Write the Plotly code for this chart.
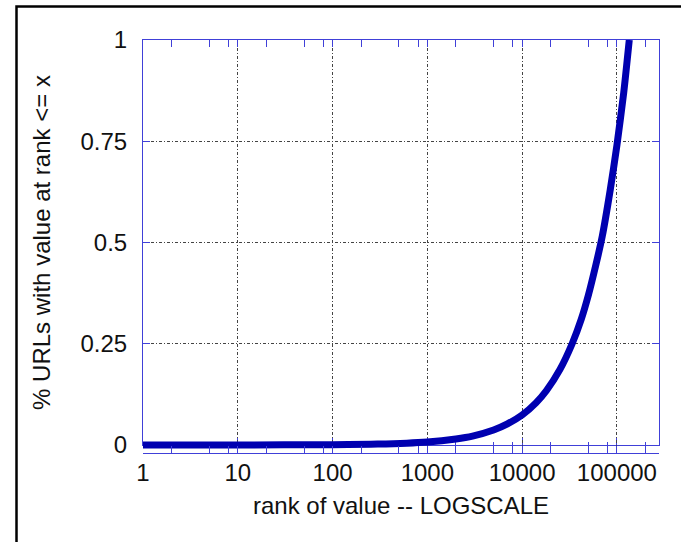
import plotly.graph_objects as go

# Cumulative share of URLs by rank of value (log-scaled rank)
ranks = [1, 10, 100, 300, 1000, 2000, 3000, 5000, 7000, 10000, 14000, 18000,
         25000, 33700, 42000, 50000, 60000, 70000, 85000, 100000, 118000, 135000]
fractions = [0.0, 0.0001, 0.0008, 0.0022, 0.0075, 0.015, 0.022, 0.037, 0.052,
             0.074, 0.104, 0.134, 0.186, 0.25, 0.31, 0.37, 0.445, 0.515, 0.63,
             0.74, 0.87, 1.0]

x_tick_vals = [1, 10, 100, 1000, 10000, 100000]
x_tick_text = ["1", "10", "100", "1000", "10000", "100000"]
x_minor_vals = [m * 10 ** d for d in range(6) for m in (2, 5, 8)]
y_tick_vals = [0, 0.25, 0.5, 0.75, 1]
y_tick_text = ["0", "0.25", "0.5", "0.75", "1"]

W, H = 681, 542
ML, MR, MT = 143, 22, 40
PLOT_H = 405          # height of the framed plotting box
PAD = 8               # room below the box so the thick curve is not cut at y=0
MB = H - MT - PLOT_H - PAD
total_h = PLOT_H + PAD
dom0 = PAD / total_h

axis_blue = "#4040d8"
grid_dash = "3px,2px,1px,2px"
font = dict(family="Liberation Sans, Arial, sans-serif", size=24, color="#111")

fig = go.Figure()
# invisible point so the framed x/y subplot (grid, ticks, border) is built
fig.add_trace(go.Scatter(
    x=ranks[:1], y=fractions[:1], mode="markers", xaxis="x", yaxis="y",
    marker=dict(opacity=0), showlegend=False, hoverinfo="skip",
))
fig.add_trace(go.Scatter(
    x=ranks, y=fractions, mode="lines", xaxis="x", yaxis="y2",
    line=dict(color="#0000b0", width=7, shape="spline", smoothing=0.6),
    showlegend=False, hoverinfo="skip",
))

fig.update_layout(
    width=W, height=H,
    margin=dict(l=ML, r=MR, t=MT, b=MB, pad=0),
    paper_bgcolor="white", plot_bgcolor="rgba(0,0,0,0)",
    font=font,
    xaxis=dict(
        type="log", range=[0, 5.444], anchor="y", domain=[0, 1],
        tickvals=x_tick_vals, ticktext=x_tick_text,
        ticks="inside", ticklen=7, tickwidth=1, tickcolor=axis_blue,
        showline=True, linecolor=axis_blue, linewidth=1, mirror="allticks",
        showgrid=True, gridcolor="#444", gridwidth=1, griddash=grid_dash,
        zeroline=False, ticklabelstandoff=6,
        minor=dict(tickvals=x_minor_vals, ticks="inside", ticklen=3.5,
                   tickcolor=axis_blue, showgrid=False),
        title=dict(text="rank of value -- LOGSCALE", font=font, standoff=12),
    ),
    yaxis=dict(
        range=[0, 1], domain=[dom0, 1], anchor="x",
        tickvals=y_tick_vals, ticktext=y_tick_text,
        ticks="inside", ticklen=7, tickwidth=1, tickcolor=axis_blue,
        showline=True, linecolor=axis_blue, linewidth=1, mirror="allticks",
        showgrid=True, gridcolor="#444", gridwidth=1, griddash=grid_dash,
        zeroline=False, ticklabelstandoff=10,
        title=dict(text="% URLs with value at rank <= x", font=font, standoff=23),
    ),
    yaxis2=dict(
        range=[-PAD / PLOT_H, 1], domain=[0, 1], anchor="free", position=0,
        visible=False, showgrid=False, zeroline=False,
    ),
)

# Outer frame edges (left and top) around the figure
fig.add_shape(
    type="rect", xref="paper", yref="paper",
    x0=(16.5 - ML) / (W - ML - MR), x1=2.0,
    y0=-2.0, y1=(H - MB - 6.5) / total_h,
    line=dict(color="black", width=2.5), fillcolor="rgba(0,0,0,0)", layer="above",
)

fig.write_html("out.html")
